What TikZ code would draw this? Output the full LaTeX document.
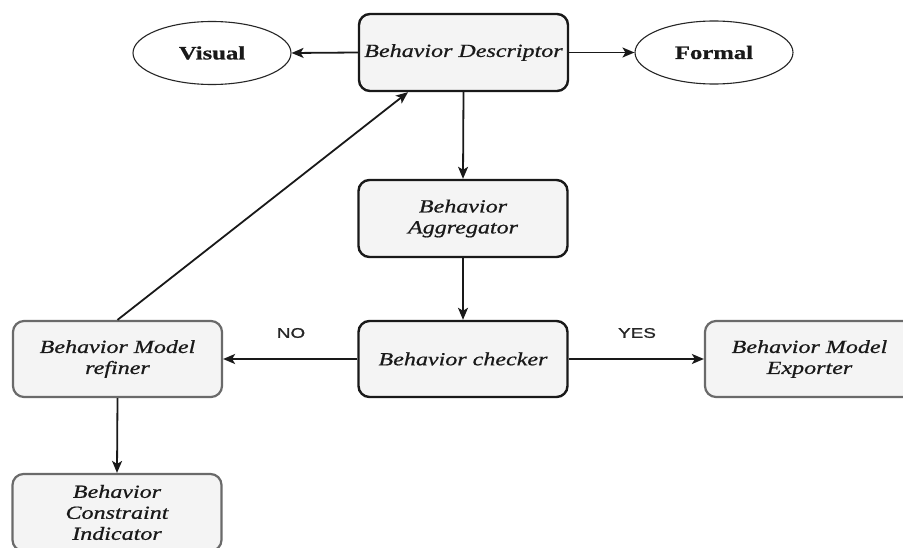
\documentclass[tikz,border=0pt]{standalone}
\usepackage{fontspec}
\usetikzlibrary{shapes.geometric,arrows.meta,calc}
\newfontfamily\boxfont[FakeStretch=1.3,FakeBold=0.7]{Liberation Serif}
\newfontfamily\labfont[FakeStretch=1.35,FakeBold=1]{Liberation Sans}
\definecolor{boxfill}{HTML}{F4F4F4}
\definecolor{softedge}{HTML}{6A6A6A}
\tikzset{
  stage/.style={draw=black!90, line width=2.4pt, rounded corners=11pt, fill=boxfill,
    minimum width=209pt, minimum height=77pt, align=center, inner sep=2pt,
    font=\boxfont\itshape\fontsize{18.5}{21}\selectfont, text=black!90},
  softstage/.style={stage, draw=softedge, line width=2.2pt},
  outcome/.style={draw=black!85, line width=1.1pt, ellipse, fill=white,
    minimum width=158pt, minimum height=63pt, inner sep=0pt,
    font=\boxfont\bfseries\fontsize{19}{21}\selectfont, text=black!90},
  flow/.style={draw=black!90, line width=1.8pt, -{Stealth[length=12pt,width=10pt,inset=3pt]}},
  decision/.style={font=\labfont\fontsize{14}{16}\selectfont, text=black!85}
}
\begin{document}
\begin{tikzpicture}[x=1pt,y=-1pt]
  \useasboundingbox (0,0) rectangle (903,548);
  \clip (0,0) rectangle (903,548);
  \fill[white] (0,0) rectangle (903,548);

  % nodes
  \node[stage] (desc) at (463.5,52.5) {Behavior Descriptor};
  \node[outcome] (vis) at (212,53) {Visual};
  \node[outcome] (form) at (714,52.5) {Formal};
  \node[stage] (agg) at (463,218.5) {Behavior\\Aggregator};
  \node[stage, minimum height=76pt] (chk) at (463,359) {Behavior checker};
  \node[softstage, minimum height=76pt] (ref) at (117.5,359) {Behavior Model\\refiner};
  \node[softstage, minimum height=76pt] (exp) at (809.5,359) {Behavior Model\\Exporter};
  \node[softstage] (con) at (117,512.5) {Behavior\\Constraint\\Indicator};

  % branch labels
  \node[decision] (no) at (291,333) {NO};
  \node[decision] (yes) at (637,333) {YES};

  % connectors
  \coordinate (dtip) at ([xshift=-55.5pt]desc.south);
  \draw[flow] (desc.west) -- (vis.east);
  \draw[flow] (desc.east) -- (form.west);
  \draw[flow] (desc.south) -- (agg.north);
  \draw[flow] (agg.south) -- (chk.north);
  \draw[flow] (chk.west) -- (ref.east);
  \draw[flow] (chk.east) -- (exp.west);
  \draw[flow] (ref.south) -- (con.north);
  \draw[flow] (ref.north) -- (dtip);
\end{tikzpicture}
\end{document}
